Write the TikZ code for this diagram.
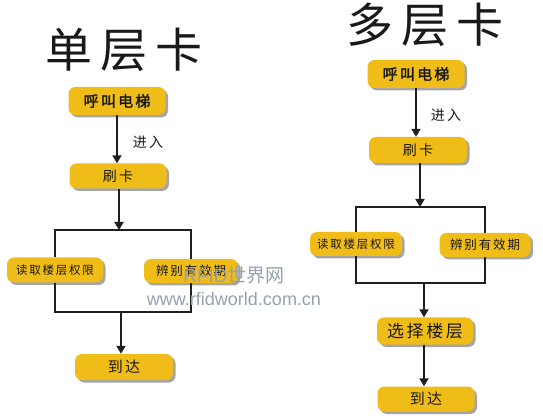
\documentclass[tikz,border=0pt]{standalone}
\usepackage{fontspec}
\usetikzlibrary{arrows.meta,shadows}
\newfontfamily\cjktitle{Noto Sans CJK SC}[LetterSpace=18]
\newfontfamily\cjkbox{Noto Sans CJK SC}[LetterSpace=15]
\newfontfamily\cjkboxb{Noto Sans CJK SC}[LetterSpace=15,FakeBold=2]
\newfontfamily\cjkplain{Noto Sans CJK SC}
\newfontfamily\wmfont{Liberation Sans}
\definecolor{boxy}{RGB}{240,188,24}
\definecolor{shadowgray}{RGB}{165,165,165}
\definecolor{wmgray}{RGB}{150,160,175}
\tikzset{
  box/.style={rounded corners=7pt, fill=boxy, inner sep=0pt, text=black!90,
    drop shadow={shadow xshift=2.5pt, shadow yshift=-2.5pt, fill=shadowgray, opacity=1},
    font=\cjkbox\fontsize{14}{14}\selectfont},
  conn/.style={line width=1.8pt, draw=black!88},
  arr/.style={conn, -{Triangle[width=9pt,length=8pt]}},
  title/.style={font=\cjktitle\fontsize{47}{47}\selectfont, text=black!90, inner sep=0pt},
  lbl/.style={font=\cjkbox\fontsize{14}{14}\selectfont, text=black!90, inner sep=0pt},
  wm/.style={text=wmgray, inner sep=0pt}
}
\begin{document}
\begin{tikzpicture}[x=1pt,y=-1pt]
\useasboundingbox (0,0) rectangle (543,419);
\fill[white] (0,0) rectangle (543,419);
% ---- left: single layer card
\node[title] (t1) at (124,50) {单层卡};
\node[box, minimum width=97pt, minimum height=28pt, font=\cjkboxb\fontsize{15}{15}\selectfont] (a1) at (117,101) {呼叫电梯};
\node[box, minimum width=97pt, minimum height=25pt] (a2) at (118,176) {刷卡};
\node[box, minimum width=96pt, minimum height=25pt, font=\cjkbox\fontsize{11.5}{11.5}\selectfont] (a3) at (55,270) {读取楼层权限};
\node[box, minimum width=94pt, minimum height=24pt, font=\cjkbox\fontsize{12.5}{12.5}\selectfont] (a4) at (191,271) {辨别有效期};
\node[box, minimum width=98pt, minimum height=26pt, font=\cjkbox\fontsize{15}{15}\selectfont] (a5) at (124,367) {到达};
\node[lbl] (l1) at (148,142) {进入};
\coordinate (j1) at (119,230);
\coordinate (j2) at (121,312);
\draw[arr] (a1.south) -- (a1.south |- a2.north);
\draw[arr] (a2.south -| j1) -- (j1);
\draw[conn] (a3.north) |- (a4.north |- j1) -- (a4.north);
\draw[conn] (a3.south) |- (a4.south |- j2) -- (a4.south);
\draw[arr] (j2) -- (j2 |- a5.north);
% ---- right: multi layer card
\node[title] (t2) at (425,25) {多层卡};
\node[box, minimum width=97pt, minimum height=28pt, font=\cjkboxb\fontsize{15}{15}\selectfont] (b1) at (416,74) {呼叫电梯};
\node[box, minimum width=98pt, minimum height=26pt] (b2) at (418,150) {刷卡};
\node[box, minimum width=92pt, minimum height=24pt, font=\cjkbox\fontsize{11.5}{11.5}\selectfont] (b3) at (356,244) {读取楼层权限};
\node[box, minimum width=91pt, minimum height=24pt, font=\cjkbox\fontsize{12.5}{12.5}\selectfont] (b4) at (485,245) {辨别有效期};
\node[box, minimum width=96pt, minimum height=27pt, font=\cjkbox\fontsize{17}{17}\selectfont] (b5) at (425,331) {选择楼层};
\node[box, minimum width=97pt, minimum height=25pt, font=\cjkbox\fontsize{15}{15}\selectfont] (b6) at (426,399) {到达};
\node[lbl] (l2) at (446,115) {进入};
\coordinate (k1) at (420,207);
\coordinate (k2) at (424,283);
\draw[arr] (b1.south) -- (b1.south |- b2.north);
\draw[arr] (b2.south -| k1) -- (k1);
\draw[conn] (b3.north) |- (b4.north |- k1) -- (b4.north);
\draw[conn] (b3.south) |- (b4.south |- k2) -- (b4.south);
\draw[arr] (k2) -- (k2 |- b5.north);
\draw[arr] (b5.south -| k2) -- (k2 |- b6.north);
% ---- watermark
\node[wm, font=\fontsize{19}{19}\selectfont] (w1) at (234,275) {\wmfont RFID\cjkplain 世界网};
\node[wm, font=\wmfont\fontsize{18}{18}\selectfont] (w2) at (234,299) {www.rfidworld.com.cn};
\end{tikzpicture}
\end{document}
